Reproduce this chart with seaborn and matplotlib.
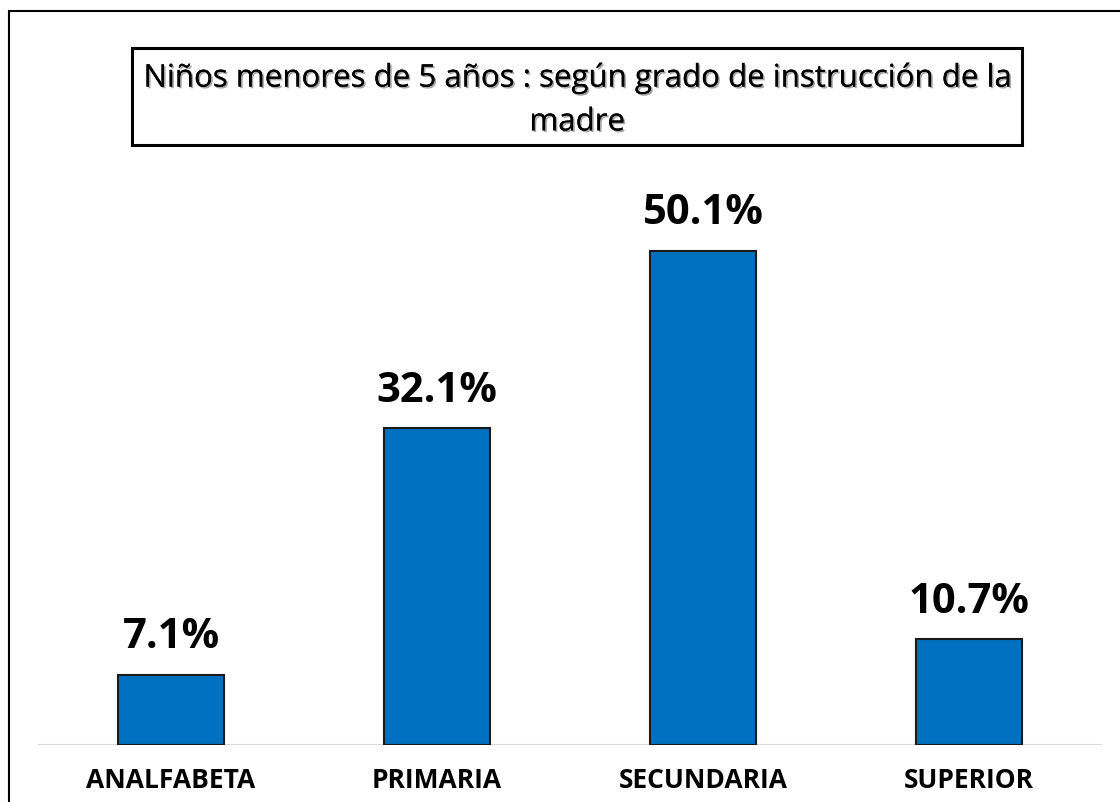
import matplotlib
matplotlib.use("Agg")
import matplotlib.pyplot as plt
import matplotlib.patheffects as pe
import seaborn as sns
import pandas as pd

# datos
categorias = ["ANALFABETA", "PRIMARIA", "SECUNDARIA", "SUPERIOR"]
porcentajes = [7.1, 32.1, 50.1, 10.7]
titulo = "Niños menores de 5 años : según grado de instrucción de la\nmadre"

df = pd.DataFrame({"grado": categorias, "pct": porcentajes})

sns.set_style("white")
plt.rcParams["font.family"] = ["Open Sans", "DejaVu Sans"]
plt.rcParams["text.color"] = "black"
plt.rcParams["xtick.color"] = "black"

fig = plt.figure(figsize=(11.2, 8.02), dpi=100)
ax = fig.add_axes([38 / 1120, 1 - 745 / 802, 1064 / 1120, 585 / 802])

sns.barplot(data=df, x="grado", y="pct", color="#0070C0", saturation=1,
            width=0.4, edgecolor="#1a1a1a", linewidth=1.5, ax=ax)

ax.set_xlim(-0.5, 3.5)
ax.set_ylim(0, 59.3)
for i, v in enumerate(porcentajes):
    ax.annotate(f"{v}%", (i, v), xytext=(0, 12), textcoords="offset points",
                ha="center", va="bottom", fontsize=30, fontweight="bold", color="black")

ax.set_xlabel("")
ax.set_ylabel("")
ax.set_yticks([])
ax.tick_params(axis="x", length=0, pad=16, labelsize=19, labelcolor="black")
for lab in ax.get_xticklabels():
    lab.set_fontweight("bold")
sns.despine(ax=ax, left=True, bottom=True)
ax.axhline(0, color="#d9d9d9", linewidth=1.5, zorder=0)

# marco del grafico
marco = plt.Rectangle((8.5 / 1120, -0.1), 1.2, 1.1 - 11 / 802, transform=fig.transFigure,
                      fill=False, edgecolor="black", linewidth=1.5)
fig.patches.append(marco)

# titulo en recuadro
caja = plt.Rectangle((132 / 1120, 1 - 145 / 802), 890 / 1120, 97 / 802,
                     transform=fig.transFigure, fill=False, edgecolor="black", linewidth=2.2)
fig.patches.append(caja)
fig.text(577 / 1120, 1 - 100 / 802, titulo, ha="center", va="center", fontsize=22.5,
         linespacing=1.6,
         path_effects=[pe.withSimplePatchShadow(offset=(1.2, -1.2), alpha=0.35), pe.Normal()])

fig.savefig("out.png", dpi=100)
